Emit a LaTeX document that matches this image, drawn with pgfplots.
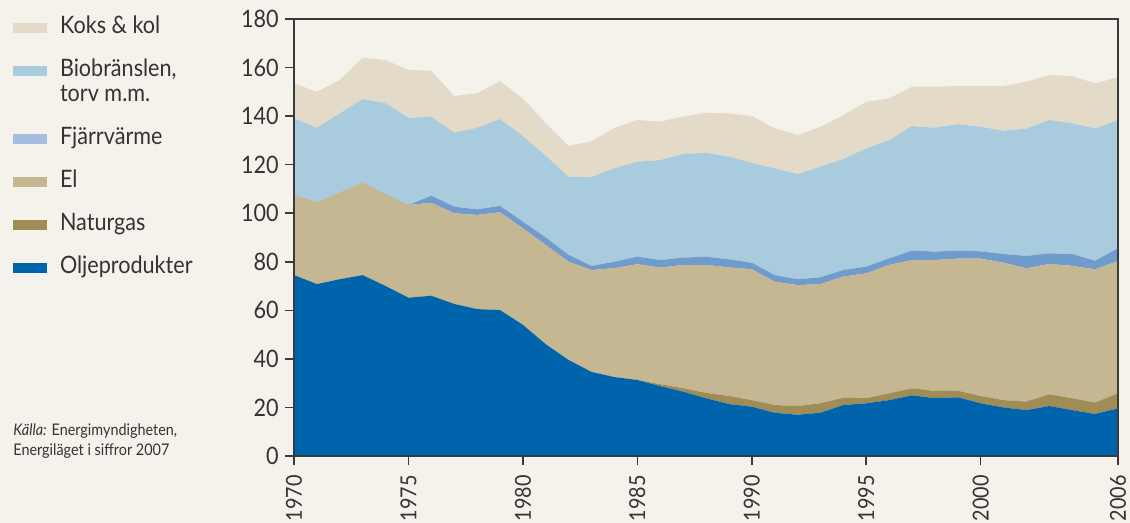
\documentclass[border=0pt]{standalone}
\usepackage{fontspec}
\setmainfont{Lato}[FakeStretch=0.9]
\usepackage{pgfplots}
\pgfplotsset{compat=1.18}
\usepackage{pgfplotstable}
\definecolor{bg}{HTML}{F5F2EC}
\definecolor{axisgray}{HTML}{3A3A3A}
\definecolor{txt}{HTML}{333333}
\definecolor{oil}{HTML}{0064AC}
\definecolor{gas}{HTML}{A08D56}
\definecolor{el}{HTML}{C5B792}
\definecolor{fjv}{HTML}{6F9BCD}
\definecolor{fjvl}{HTML}{A6BCE0}
\definecolor{bio}{HTML}{A9CBDE}
\definecolor{koks}{HTML}{E3DBC8}
\pgfplotstableread{
year oil gas el fjv bio koks
1970 74.5 0 33.0 0 31.6 14.4
1971 70.8 0 33.7 0 30.7 14.8
1972 72.8 0 35.7 0 32.6 13.8
1973 74.5 0 38.1 0 34.4 17.0
1974 70.0 0 37.9 0 37.4 17.8
1975 65.2 0 38.2 0 35.9 19.7
1976 66.0 0 38.3 2.9 32.5 19.0
1977 62.6 0 37.4 2.7 30.5 15.1
1978 60.5 0 38.8 2.3 33.6 14.2
1979 60.1 0 40.3 2.6 35.8 15.6
1980 54.0 0 39.8 2.7 35.3 15.5
1981 46.0 0 40.9 3.1 33.6 13.4
1982 39.5 0 40.5 2.8 32.2 12.7
1983 34.6 0 42.0 1.7 36.6 14.8
1984 32.5 0 44.9 2.6 38.6 16.5
1985 31.3 0 47.7 3.1 39.1 17.2
1986 28.8 0.8 48.0 3.1 41.2 15.8
1987 26.5 1.4 50.8 3.0 42.7 15.4
1988 23.8 2.2 52.7 3.4 42.8 16.5
1989 21.4 3.3 53.0 3.3 42.3 17.8
1990 20.3 2.7 53.9 2.7 41.2 19.2
1991 17.8 3.2 50.8 2.7 44.0 16.5
1992 17.0 3.6 49.8 2.4 43.3 16.1
1993 17.8 3.9 49.1 2.8 45.6 16.4
1994 21.0 3.0 49.9 2.7 45.7 18.1
1995 21.7 2.1 51.4 2.8 48.7 19.2
1996 23.0 2.8 52.9 2.7 48.7 17.2
1997 25.0 2.9 52.8 3.9 51.3 16.2
1998 23.8 3.0 53.9 3.5 51.0 16.9
1999 24.2 2.7 54.4 3.3 52.1 15.7
2000 21.7 3.0 56.6 3.0 51.3 16.8
2001 20.0 3.0 56.6 3.6 50.8 18.4
2002 18.9 3.5 54.9 5.1 52.5 19.3
2003 20.6 4.8 53.7 4.4 54.9 18.5
2004 18.9 4.9 54.5 4.9 53.8 19.5
2005 17.3 4.7 54.9 3.5 54.5 18.6
2006 19.6 6.2 54.5 5.2 52.9 17.6
}\data
\begin{document}
\begin{tikzpicture}
\fill[bg] (0,0) rectangle (565pt,261.5pt);
\useasboundingbox (0,0) rectangle (565pt,261.5pt);
\begin{axis}[name=ax, at={(147pt,33.5pt)}, anchor=south west,
  scale only axis, width=412pt, height=218.5pt,
  xmin=1970, xmax=2006, ymin=0, ymax=180,
  stack plots=y, area style,
  legend image code/.code={\fill[#1] (0pt,0.5pt) rectangle (17pt,5.5pt);},
  axis line style={draw=axisgray, line width=0.75pt},
  xtick={1970,1975,1980,1985,1990,1995,2000,2006},
  ytick={0,20,...,180},
  xtick pos=bottom, ytick pos=left,
  tick align=outside, major tick length=4.5pt,
  tick style={draw=axisgray, line width=0.75pt},
  /pgf/number format/assume math mode=true,
  /pgf/number format/1000 sep={},
  ticklabel style={font=\fontsize{12}{14}\selectfont, text=txt},
  yticklabel style={inner sep=0pt, xshift=-3pt},
  xticklabel style={font=\fontsize{11}{13}\selectfont, yshift=-5pt, rotate=90, anchor=east, inner sep=0pt},
  legend style={at={(-0.341,1.0069)}, anchor=north west, draw=none, fill=none,
    inner sep=0pt, outer sep=0pt, row sep=9.5pt, column sep=6.5pt,
    font=\fontsize{12}{12.5}\selectfont, text=txt,
    nodes={inner sep=0pt, anchor=base west, text height=9pt, text depth=3pt}},
  legend cell align=left, reverse legend,
]
\addplot[fill=oil, draw=none] table[x=year,y=oil]{\data} \closedcycle;
\addlegendentry{Oljeprodukter}
\addplot[fill=gas, draw=none] table[x=year,y=gas]{\data} \closedcycle;
\addlegendentry{Naturgas}
\addplot[fill=el, draw=none] table[x=year,y=el]{\data} \closedcycle;
\addlegendentry{El}
\addplot[fill=fjv, draw=none, legend image code/.code={\fill[fjvl] (0pt,0.5pt) rectangle (17pt,5.5pt);}] table[x=year,y=fjv]{\data} \closedcycle;
\addlegendentry{Fjärrvärme}
\addplot[fill=bio, draw=none] table[x=year,y=bio]{\data} \closedcycle;
\addlegendentry[text depth=15.5pt]{\parbox[t]{3cm}{Biobränslen,\\torv m.m.}}
\addplot[fill=koks, draw=none] table[x=year,y=koks]{\data} \closedcycle;
\addlegendentry{Koks \& kol}
\end{axis}
\node[anchor=north west, align=left, inner sep=0pt, text=txt, font=\fontsize{8}{10}\selectfont]
  at ([xshift=-140.5pt, yshift=16.5pt]ax.south west) {\textit{Källa:} Energimyndigheten,\\Energiläget i siffror 2007};
\end{tikzpicture}
\end{document}
